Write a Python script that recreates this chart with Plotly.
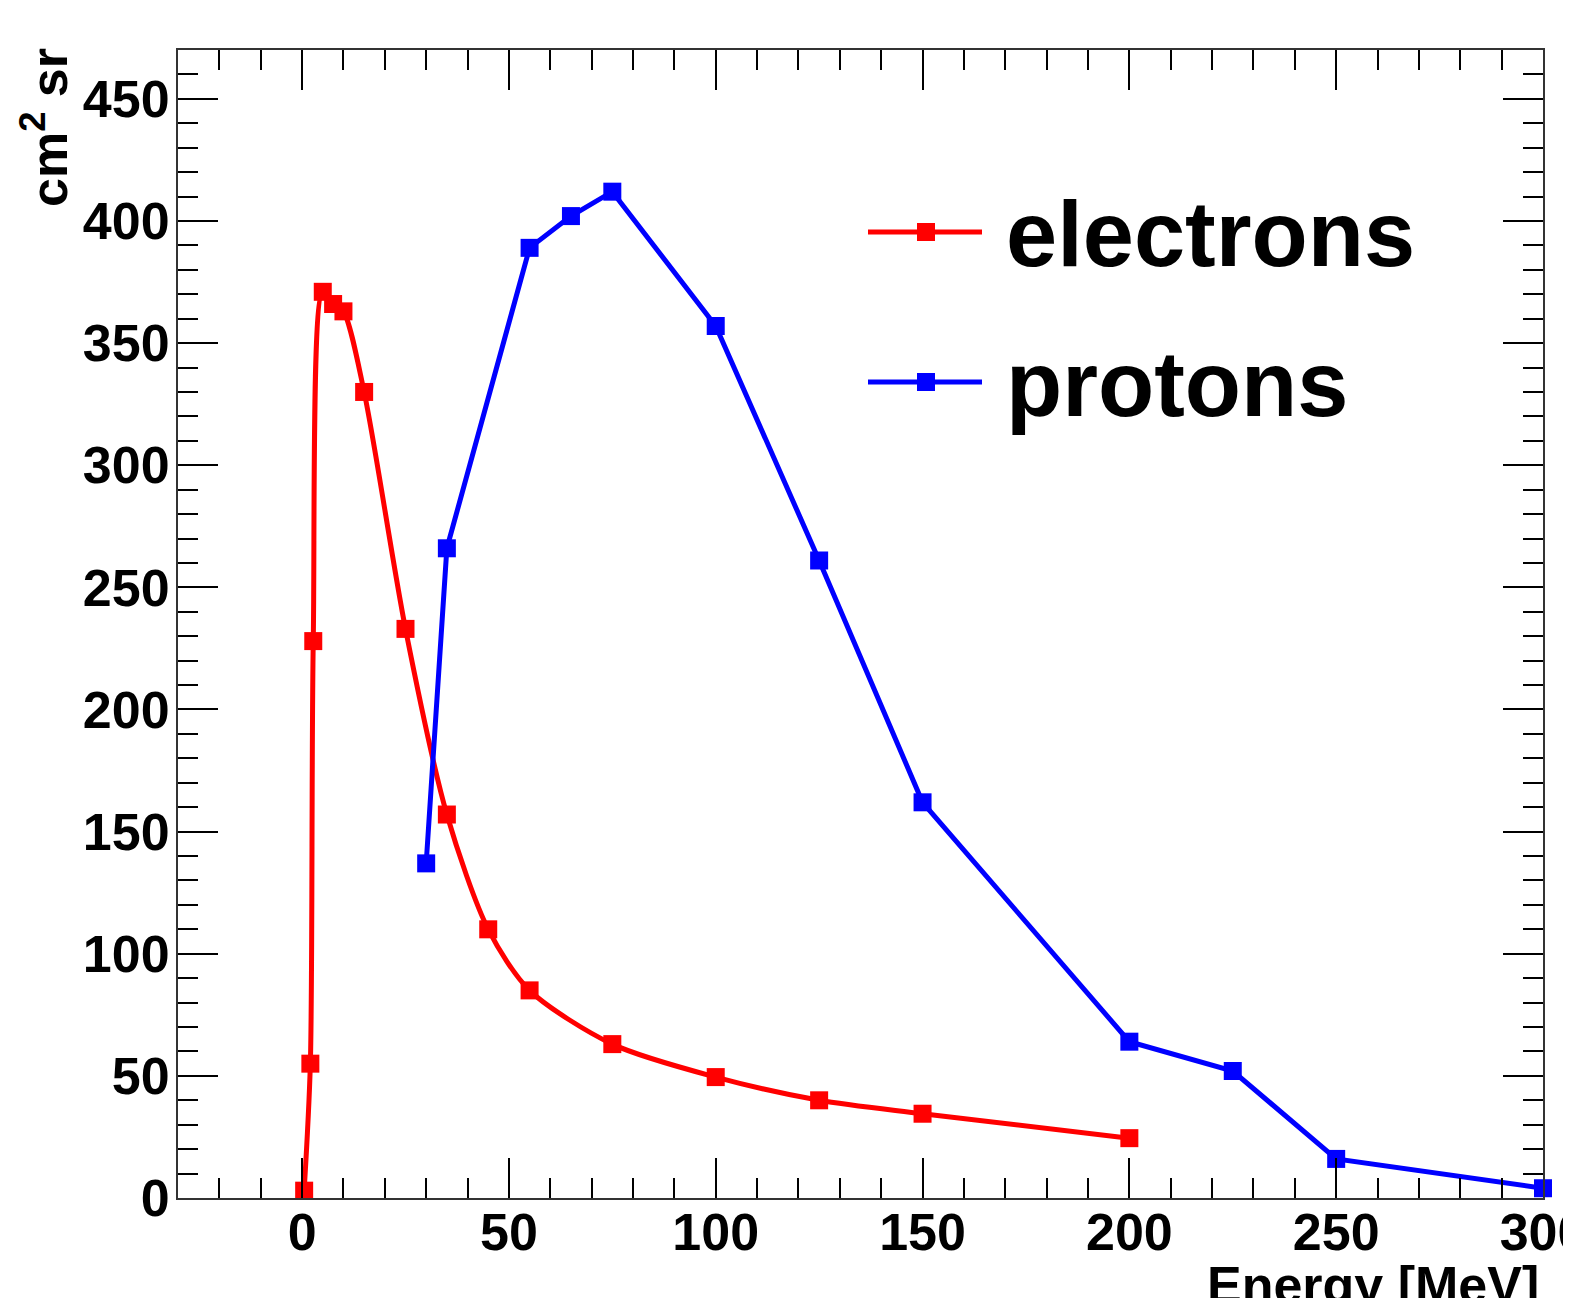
import plotly.graph_objects as go

# ---- data ----
electron_energy = [0.5, 2, 2.7, 5, 7.5, 10, 15, 25, 35, 45, 55, 75, 100, 125, 150, 200]
electron_gf = [3, 55, 228, 371, 366, 363, 330, 233, 157, 110, 85, 63, 49.5, 40, 34.5, 24.5]

proton_energy = [30, 35, 55, 65, 75, 100, 125, 150, 200, 225, 250, 300]
proton_gf = [137, 266, 389, 402, 412, 357, 261, 162, 64, 52, 16, 4]

x_title = "Energy [MeV]"
y_title = "cm<sup>2</sup> sr"
legend_labels = ["electrons", "protons"]

W, H = 1571, 1298
OFF = 8  # page body margin
# plot area in page pixels
L, R, T, B = 178, 1543, 50, 1198

def px(x):
    return (x - L) / (R - L)

def py(y):
    return (B - y) / (B - T)

fig = go.Figure()
fig.add_trace(go.Scatter(x=electron_energy, y=electron_gf, mode="lines+markers",
                         line=dict(color="#ff0000", width=5, shape="spline", smoothing=0.8),
                         marker=dict(symbol="square", size=18, color="#ff0000"),
                         showlegend=False, cliponaxis=False))
fig.add_trace(go.Scatter(x=proton_energy, y=proton_gf, mode="lines+markers",
                         line=dict(color="#0000ff", width=5),
                         marker=dict(symbol="square", size=18, color="#0000ff"),
                         showlegend=False, cliponaxis=False))

tickfont = dict(family="Liberation Sans, Arial, sans-serif", size=52, color="black", weight="bold")

fig.update_xaxes(range=[-30, 300], dtick=50, tick0=0, ticks="inside", ticklen=40, tickwidth=2,
                 tickcolor="black", showline=True, linecolor="#333333", linewidth=2,
                 mirror="allticks", showgrid=False, zeroline=False, tickfont=tickfont,
                 automargin=False, ticklabeloverflow="allow", ticklabelstandoff=-12,
                 minor=dict(dtick=10, tick0=0, ticks="inside", ticklen=20, tickwidth=2,
                            tickcolor="black", showgrid=False))
fig.update_yaxes(range=[0, 470], dtick=50, tick0=0, ticks="inside", ticklen=40, tickwidth=2,
                 tickcolor="black", showline=True, linecolor="#333333", linewidth=2,
                 mirror="allticks", showgrid=False, zeroline=False, tickfont=tickfont,
                 automargin=False, ticklabelstandoff=-4, ticklabeloverflow="allow",
                 minor=dict(dtick=10, tick0=0, ticks="inside", ticklen=20, tickwidth=2,
                            tickcolor="black", showgrid=False))

annotations = [
    dict(text=x_title, x=px(1541), y=py(1254), xref="paper", yref="paper",
         xanchor="right", yanchor="top", showarrow=False,
         font=dict(family="Liberation Sans, Arial, sans-serif", size=52, color="black", weight="bold")),
    dict(text=y_title, x=px(45), y=py(128), xref="paper", yref="paper",
         xanchor="center", yanchor="middle", textangle=-90, showarrow=False,
         font=dict(family="Liberation Sans, Arial, sans-serif", size=52, color="black", weight="bold")),
]

shapes = []
legend_rows = [(legend_labels[0], "#ff0000", 232), (legend_labels[1], "#0000ff", 382)]
for label, color, yy in legend_rows:
    shapes.append(dict(type="line", xref="paper", yref="paper",
                       x0=px(868), x1=px(982), y0=py(yy), y1=py(yy),
                       line=dict(color=color, width=5)))
    shapes.append(dict(type="rect", xref="paper", yref="paper",
                       x0=px(917), x1=px(935), y0=py(yy - 9), y1=py(yy + 9),
                       fillcolor=color, line=dict(width=0)))
    annotations.append(dict(text=label, x=px(1004), y=py(yy + 2), xref="paper", yref="paper",
                            xanchor="left", yanchor="middle", showarrow=False,
                            font=dict(family="Liberation Sans, Arial, sans-serif", size=92,
                                      color="black", weight="bold")))

ml = L - OFF
mt = T - OFF
fig.update_layout(width=W, height=H,
                  margin=dict(l=ml, r=W - ml - (R - L), t=mt, b=H - mt - (B - T), pad=0),
                  plot_bgcolor="white", paper_bgcolor="white",
                  annotations=annotations, shapes=shapes, showlegend=False)

fig.write_html("out.html")
